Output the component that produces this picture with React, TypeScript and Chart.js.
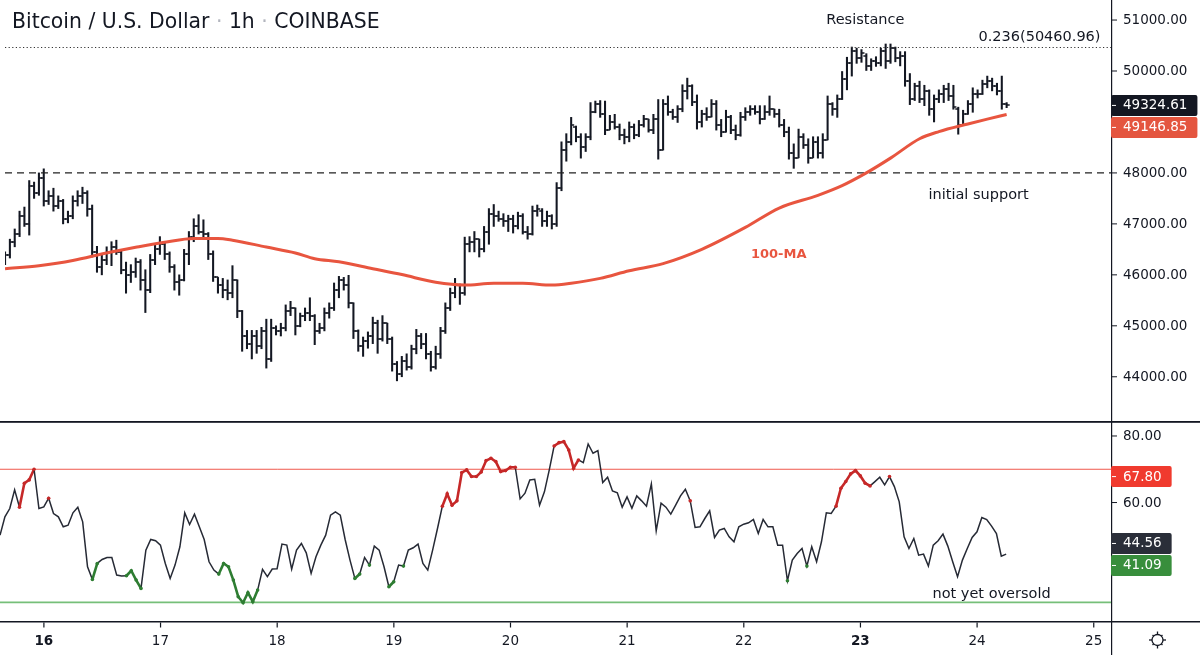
import React, { useEffect, useRef } from 'react';
import { Chart, registerables } from 'chart.js';

Chart.register(...registerables);

// ---------------- DATA ----------------
// hourly bars, hour 0 = Aug 16 00:00
const FIRST_HOUR = -9;

const opens = [
  46300, 46380, 46650, 46800, 47150, 47000, 47750, 47600, 47900,
  47450, 47550, 47350, 47450, 47100, 47150, 47450, 47550, 47600, 47300, 46450, 46150, 46300, 46450, 46550, 46450, 46100, 46000, 46050, 46250, 45900, 45700, 46300, 46500,
  46600, 46400, 46150, 45850, 45900, 46400, 46750, 46950, 46850, 46800, 46400, 45950, 45800, 45700, 45650, 45900, 45300, 44800, 44650, 44800, 44600, 44900, 44350, 44950,
  44900, 44950, 45300, 45350, 45000, 45200, 45250, 45200, 44900, 44950, 45250, 45350, 45700, 45900, 45800, 45450, 44900, 44600, 44700, 44800, 45050, 44750, 45050, 44750,
  44250, 44050, 44300, 44200, 44550, 44800, 44650, 44450, 44200, 44450, 44900, 45350, 45650, 45800, 45650, 46600, 46650, 46700, 46500, 46850, 47200, 47150, 47100, 47050,
  47100, 46950, 47150, 46850, 46800, 47250, 47250, 47050, 47150, 47000, 47700, 48450, 48600, 48900, 48700, 48500, 48700, 49200, 49350, 49150, 48850, 49000, 48900, 48750,
  48700, 48900, 48750, 48950, 49050, 48850, 49050, 48450, 49350, 49200, 49100, 49250, 49600, 49700, 49400, 49000, 49150, 49100, 49350, 48950, 48800, 49100, 48850, 48750,
  49100, 49200, 49250, 49200, 49050, 49200, 49250, 49150, 48950, 48800, 48400, 48300, 48700, 48550, 48300, 48600, 48400, 48650, 49350, 49250, 49450, 49850, 50150, 50400,
  50250, 50300, 50100, 50200, 50150, 50400, 50200, 50450, 50250, 50300, 49800, 49450, 49700, 49450, 49600, 49250, 49450, 49550, 49650, 49500, 49250, 48950, 49150, 49350,
  49550, 49550, 49750, 49800, 49700, 49600, 49350,
];
const highs = [
  46450, 46700, 46900, 47250, 47330, 47850, 47820, 48000, 48080,
  47650, 47700, 47550, 47480, 47250, 47550, 47650, 47720, 47650, 47370, 46560, 46400, 46550, 46650, 46680, 46480, 46250, 46200, 46330, 46300, 46100, 46400, 46600, 46750,
  46650, 46450, 46200, 46000, 46500, 46850, 47100, 47180, 47080, 46830, 46470, 45950, 45930, 45900, 46180, 45900, 45300, 44910, 44910, 44910, 44970, 45130, 45130, 45000,
  45050, 45410, 45480, 45350, 45250, 45350, 45550, 45220, 45050, 45350, 45450, 45840, 45970, 45950, 45990, 45450, 44920, 44780, 44880, 45170, 45110, 45200, 45050, 44780,
  44300, 44400, 44450, 44620, 44930, 44850, 44850, 44500, 44600, 44970, 45450, 45740, 45930, 45820, 46740, 46750, 46850, 46700, 46950, 47300, 47380, 47250, 47200, 47170,
  47170, 47230, 47200, 46950, 47350, 47370, 47300, 47250, 47180, 47810, 48610, 48770, 49090, 48920, 48770, 48770, 49380, 49410, 49420, 49410, 49130, 49150, 48960, 48860,
  49000, 48960, 49030, 49130, 49050, 49150, 49440, 49440, 49510, 49250, 49320, 49730, 49860, 49730, 49530, 49230, 49280, 49440, 49420, 49050, 49230, 49130, 48940, 49190,
  49280, 49320, 49320, 49320, 49320, 49510, 49250, 49250, 49050, 48900, 48570, 48860, 48770, 48670, 48710, 48710, 48770, 49510, 49380, 49530, 49990, 50270, 50470, 50450,
  50420, 50340, 50240, 50280, 50450, 50530, 50530, 50470, 50380, 50380, 49950, 49760, 49800, 49720, 49630, 49530, 49630, 49720, 49760, 49720, 49290, 49230, 49420, 49670,
  49630, 49820, 49900, 49860, 49760, 49900, 49380,
];
const lows = [
  46200, 46330, 46550, 46750, 46950, 46780, 47500, 47560, 47350,
  47380, 47250, 47300, 47000, 47020, 47100, 47350, 47400, 47150, 46350, 46050, 46000, 46200, 46180, 46400, 46020, 45640, 45850, 45950, 45700, 45260, 45650, 46200, 46400,
  46300, 46050, 45700, 45600, 45880, 46200, 46650, 46800, 46700, 46300, 45870, 45640, 45550, 45510, 45550, 45160, 44500, 44550, 44350, 44460, 44550, 44170, 44300, 44820,
  44800, 44900, 45200, 44820, 44980, 45100, 45100, 44630, 44850, 44900, 45150, 45300, 45550, 45700, 45350, 44750, 44500, 44400, 44560, 44650, 44460, 44700, 44650, 44110,
  43920, 44000, 44130, 44150, 44450, 44550, 44350, 44110, 44150, 44360, 44850, 45300, 45550, 45420, 45600, 46450, 46450, 46350, 46450, 46600, 46950, 47050, 46950, 46850,
  46820, 46900, 46800, 46700, 46780, 47150, 46950, 46950, 46900, 46950, 47650, 48230, 48550, 48610, 48290, 48420, 48650, 49180, 49090, 48750, 48850, 48860, 48650, 48570,
  48610, 48670, 48710, 48900, 48800, 48770, 48270, 48450, 49130, 49050, 48990, 49200, 49450, 49320, 48860, 48900, 49030, 49100, 48840, 48710, 48800, 48770, 48650, 48720,
  49030, 49130, 49150, 48960, 49050, 49130, 49090, 48900, 48710, 48270, 48090, 48300, 48480, 48190, 48300, 48290, 48290, 48650, 49130, 49090, 49440, 49630, 49900, 50150,
  50170, 50010, 50010, 50090, 50100, 50050, 50150, 50180, 50100, 49700, 49340, 49420, 49380, 49320, 49130, 49000, 49380, 49380, 49420, 49250, 48760, 48950, 49150, 49190,
  49470, 49540, 49670, 49610, 49530, 49250, 49280,
];
const closes = [
  46380, 46650, 46800, 47150, 47000, 47750, 47600, 47900, 47450,
  47550, 47350, 47450, 47100, 47150, 47450, 47550, 47600, 47300, 46450, 46150, 46300, 46450, 46550, 46450, 46100, 46000, 46050, 46250, 45900, 45700, 46300, 46500, 46600,
  46400, 46150, 45850, 45900, 46400, 46750, 46950, 46850, 46800, 46400, 45950, 45800, 45700, 45650, 45900, 45300, 44800, 44650, 44800, 44600, 44900, 44350, 44950, 44900,
  44950, 45300, 45350, 45000, 45200, 45250, 45200, 44900, 44950, 45250, 45350, 45700, 45900, 45800, 45450, 44900, 44600, 44700, 44800, 45050, 44750, 45050, 44750, 44250,
  44050, 44300, 44200, 44550, 44800, 44650, 44450, 44200, 44450, 44900, 45350, 45650, 45800, 45650, 46600, 46650, 46700, 46500, 46850, 47200, 47150, 47100, 47050, 47100,
  46950, 47150, 46850, 46800, 47250, 47300, 47050, 47150, 47000, 47700, 48450, 48600, 48950, 48700, 48500, 48700, 49200, 49350, 49150, 48850, 49000, 48900, 48750, 48700,
  48900, 48750, 48950, 49050, 48850, 49050, 48450, 49350, 49200, 49100, 49250, 49600, 49700, 49400, 49000, 49150, 49100, 49350, 48950, 48800, 49100, 48850, 48750, 49100,
  49200, 49250, 49200, 49050, 49200, 49250, 49150, 48950, 48800, 48400, 48300, 48700, 48550, 48300, 48600, 48400, 48650, 49350, 49250, 49450, 49850, 50150, 50400, 50250,
  50350, 50100, 50200, 50150, 50400, 50200, 50450, 50250, 50300, 49800, 49450, 49700, 49450, 49600, 49250, 49450, 49550, 49650, 49500, 49300, 48950, 49150, 49350, 49550,
  49550, 49750, 49800, 49700, 49600, 49350, 49324.61,
];

// 100-period moving average
const maHours = [-9, -2, 5, 12, 18, 24, 30, 35, 38, 45, 51, 55, 60, 67, 73, 80, 86, 92, 98, 104, 108, 114, 120, 127, 135, 144, 151, 159, 164, 169, 174, 180, 184, 190, 194, 198];
const maValues = [46120, 46180, 46280, 46430, 46540, 46640, 46715, 46715, 46680, 46545, 46430, 46315, 46255, 46120, 46005, 45855, 45800, 45835, 45835, 45800, 45835, 45930, 46080, 46220, 46500, 46930, 47310, 47560, 47750, 48000, 48290, 48670, 48810, 48960, 49055, 49146.85];

// RSI, one value per bar (same hours as the bars)
const rsiValues = [
  50.2, 55.7, 58.2, 63.8, 58.6, 65.8, 66.8, 70.0, 58.2,
  58.7, 61.3, 56.7, 55.7, 52.7, 53.2, 56.9, 58.6, 54.2, 40.7, 36.9, 41.7, 42.9, 43.5, 43.5, 38.2, 37.9, 38.0, 39.5, 36.7, 34.2, 45.7, 48.9, 48.5,
  47.2, 41.7, 37.2, 41.2, 46.7, 56.9, 53.4, 56.5, 52.7, 48.9, 42.2, 39.7, 38.5, 41.7, 40.7, 36.7, 31.7, 29.9, 32.9, 30.2, 33.7, 39.9, 37.7, 40.0,
  40.1, 47.5, 47.2, 40.0, 45.7, 47.7, 44.9, 38.7, 43.7, 47.2, 50.2, 56.2, 57.2, 56.2, 48.9, 42.7, 37.2, 38.5, 43.5, 41.2, 46.9, 45.7, 40.7, 34.7,
  36.2, 41.2, 40.9, 45.7, 46.4, 47.5, 41.7, 39.7, 45.7, 52.2, 58.9, 62.6, 59.2, 60.5, 69.0, 69.8, 67.8, 67.8, 69.2, 72.6, 73.3, 72.3, 69.3, 69.6,
  70.6, 70.6, 61.1, 62.8, 66.8, 67.0, 59.2, 63.2, 69.8, 77.0, 78.0, 78.3, 75.8, 70.3, 72.8, 72.0, 77.6, 74.8, 75.6, 66.0, 67.6, 63.5, 62.9, 58.6,
  61.7, 58.3, 62.0, 60.5, 58.9, 65.6, 51.5, 59.8, 58.6, 56.5, 59.2, 62.0, 64.0, 60.5, 52.5, 52.7, 55.2, 57.5, 49.5, 51.7, 52.2, 49.7, 48.2, 52.7,
  53.5, 53.9, 54.9, 50.7, 54.9, 52.7, 52.7, 47.2, 47.2, 36.5, 42.7, 44.7, 46.2, 40.9, 46.7, 42.2, 48.2, 56.9, 56.7, 58.9, 64.3, 66.3, 68.6, 69.6,
  68.0, 65.8, 65.0, 66.3, 67.6, 65.3, 67.8, 64.8, 60.2, 49.7, 46.2, 49.2, 44.2, 44.5, 40.9, 47.2, 48.5, 50.5, 46.9, 42.2, 37.7, 42.7, 46.2, 49.5,
  51.2, 55.5, 54.9, 52.9, 50.7, 43.9, 44.5,
];
// hours where the RSI is highlighted (hot = red, cold = green)
const rsiHotRanges = [[-5, -2], [1, 1], [82, 97], [105, 110], [133, 133], [163, 170], [174, 174]];
const rsiColdRanges = [[10, 11], [17, 20], [36, 44], [64, 65], [67, 67], [71, 72], [74, 74], [153, 153], [157, 157]];

const priceTicks = [44000, 45000, 46000, 47000, 48000, 50000, 51000];
const hiddenPriceTicks = [49000];
const rsiTicks = [60, 80];
const dayTickHours = [0, 24, 48, 72, 96, 120, 144, 168, 192, 216];
const dayLabels = ['16', '17', '18', '19', '20', '21', '22', '23', '24', '25'];
const boldDays = ['16', '23'];

const supportLevel = 48000;
const fibLevel = 50460.96;
const fibLabel = '0.236(50460.96)';
const overbought = 70;
const oversold = 30;
const lastPrice = 49324.61;
const lastMA = 49146.85;
const rsiUpperValue = 67.8;
const rsiLastValue = 44.56;
const rsiLowerValue = 41.09;

const X_MIN = -9.01;
const X_MAX = 219.57;
const PRICE_MIN = 43230;
const PRICE_MAX = 51295;
const RSI_MIN = 24.4;
const RSI_MAX = 84.5;

// ---------------- STYLE ----------------
const INK = '#131722';
const FONT = '"DejaVu Sans", sans-serif';
const MA_RED = '#e8553f';
const HOT = '#c62828';
const COLD = '#2e7d32';

const hours = opens.map((_, i) => FIRST_HOUR + i);

function inRanges(h: number, ranges: number[][]) {
  return ranges.some(([a, b]) => h >= a && h <= b);
}
function zoneAt(i: number) {
  const h = hours[i];
  if (inRanges(h, rsiHotRanges)) return 1;
  if (inRanges(h, rsiColdRanges)) return -1;
  return 0;
}

function makeTick(side: 'left' | 'right') {
  const c = document.createElement('canvas');
  c.width = 8;
  c.height = 2;
  const g = c.getContext('2d')!;
  g.fillStyle = INK;
  if (side === 'left') g.fillRect(1, 0.25, 3.2, 1.5);
  else g.fillRect(3.8, 0.25, 3.2, 1.5);
  return c;
}

function drawBox(ctx: CanvasRenderingContext2D, x0: number, cy: number, text: string, bg: string) {
  ctx.font = `13.5px ${FONT}`;
  const w = ctx.measureText(text).width + 22;
  const h = 21;
  ctx.fillStyle = bg;
  ctx.beginPath();
  ctx.roundRect(x0, cy - h / 2, w, h, 2);
  ctx.fill();
  ctx.fillStyle = '#ffffff';
  ctx.fillRect(x0 + 1, cy - 0.5, 4, 1);
  ctx.textAlign = 'left';
  ctx.textBaseline = 'middle';
  ctx.fillText(text, x0 + 12, cy + 0.5);
}

const mainDecor = {
  id: 'mainDecor',
  afterDraw(chart: any) {
    const { ctx, chartArea, scales } = chart;
    const { right } = chartArea;
    const x = scales.x;
    const y = scales.y;
    ctx.save();
    // axis line
    ctx.fillStyle = INK;
    ctx.fillRect(right, 0, 1.2, chart.height);
    // ticks + labels
    ctx.font = `13.5px ${FONT}`;
    ctx.textAlign = 'left';
    ctx.textBaseline = 'middle';
    priceTicks.forEach((v) => {
      const py = y.getPixelForValue(v);
      ctx.fillStyle = INK;
      ctx.fillRect(right + 1, py - 0.5, 5, 1);
      ctx.fillText(v.toFixed(2), right + 12, py + 0.5);
    });
    hiddenPriceTicks.forEach((v) => {
      ctx.fillRect(right + 1, y.getPixelForValue(v) - 0.5, 5, 1);
    });
    // price boxes
    const yLast = y.getPixelForValue(lastPrice);
    let yMa = y.getPixelForValue(lastMA);
    if (yMa - yLast < 22) yMa = yLast + 22;
    drawBox(ctx, right, yLast, lastPrice.toFixed(2), '#131722');
    drawBox(ctx, right, yMa, lastMA.toFixed(2), '#e4553f');

    // title
    ctx.textBaseline = 'alphabetic';
    ctx.font = `20.4px ${FONT}`;
    let tx = 12;
    const parts: [string, string][] = [
      ['Bitcoin / U.S. Dollar', INK],
      [' · ', '#b2b5be'],
      ['1h', INK],
      [' · ', '#b2b5be'],
      ['COINBASE', INK],
    ];
    parts.forEach(([t, c]) => {
      ctx.fillStyle = c;
      ctx.fillText(t, tx, 28);
      tx += ctx.measureText(t).width;
    });

    // annotations
    ctx.fillStyle = INK;
    ctx.font = `14.5px ${FONT}`;
    ctx.textBaseline = 'middle';
    ctx.textAlign = 'center';
    ctx.fillText('Resistance', x.getPixelForValue(168.8), y.getPixelForValue(51000));
    ctx.fillText('initial support', x.getPixelForValue(192.2), y.getPixelForValue(47560));
    ctx.textAlign = 'right';
    ctx.textBaseline = 'bottom';
    ctx.fillText(fibLabel, x.getPixelForValue(217.4), y.getPixelForValue(fibLevel) - 3);
    ctx.textAlign = 'center';
    ctx.textBaseline = 'middle';
    ctx.fillStyle = MA_RED;
    ctx.font = `bold 13px ${FONT}`;
    ctx.fillText('100-MA', x.getPixelForValue(150.9), y.getPixelForValue(46395));
    ctx.restore();
  },
};

const rsiDecor = {
  id: 'rsiDecor',
  afterDraw(chart: any) {
    const { ctx, chartArea, scales } = chart;
    const { right, bottom } = chartArea;
    const x = scales.x;
    const y = scales.y;
    ctx.save();
    ctx.fillStyle = INK;
    ctx.fillRect(0, 0, chart.width, 1.8);
    ctx.fillRect(0, bottom, chart.width, 1.5);
    ctx.fillRect(right, 0, 1.2, chart.height);
    ctx.font = `13.5px ${FONT}`;
    ctx.textAlign = 'left';
    ctx.textBaseline = 'middle';
    rsiTicks.forEach((v) => {
      const py = y.getPixelForValue(v);
      ctx.fillStyle = INK;
      ctx.fillRect(right + 1, py - 0.5, 5, 1);
      ctx.fillText(v.toFixed(2), right + 12, py + 0.5);
    });
    // value boxes
    drawBox(ctx, right, y.getPixelForValue(rsiUpperValue), rsiUpperValue.toFixed(2), '#f03a2e');
    const yLow = y.getPixelForValue(rsiLowerValue);
    let yLastR = y.getPixelForValue(rsiLastValue);
    if (yLow - yLastR < 22) yLastR = yLow - 22;
    drawBox(ctx, right, yLastR, rsiLastValue.toFixed(2), '#2a2e39');
    drawBox(ctx, right, yLow, rsiLowerValue.toFixed(2), '#388e3c');

    // day axis
    dayTickHours.forEach((h, i) => {
      const px = x.getPixelForValue(h);
      ctx.fillStyle = INK;
      ctx.fillRect(px - 0.5, bottom + 1.5, 1.2, 5);
      ctx.font = `${boldDays.includes(dayLabels[i]) ? 'bold ' : ''}13.5px ${FONT}`;
      ctx.textAlign = 'center';
      ctx.textBaseline = 'middle';
      ctx.fillText(dayLabels[i], px, bottom + 20);
    });

    // settings icon
    const gx = right + (chart.width - right) / 2 + 2;
    const gy = bottom + 19;
    ctx.strokeStyle = INK;
    ctx.lineWidth = 1.3;
    ctx.beginPath();
    ctx.arc(gx, gy, 5.5, 0, Math.PI * 2);
    ctx.stroke();
    for (let k = 0; k < 8; k++) {
      const a = (k * Math.PI) / 4;
      ctx.beginPath();
      ctx.moveTo(gx + Math.cos(a) * 5.5, gy + Math.sin(a) * 5.5);
      ctx.lineTo(gx + Math.cos(a) * (k % 2 === 0 ? 8.5 : 7), gy + Math.sin(a) * (k % 2 === 0 ? 8.5 : 7));
      ctx.stroke();
    }

    // annotation
    ctx.fillStyle = INK;
    ctx.font = `14.5px ${FONT}`;
    ctx.textAlign = 'center';
    ctx.textBaseline = 'middle';
    ctx.fillText('not yet oversold', x.getPixelForValue(195), y.getPixelForValue(32.5));
    ctx.restore();
  },
};

function mainConfig(): any {
  return {
    type: 'bar',
    data: {
      datasets: [
        {
          type: 'line',
          label: '100-MA',
          data: maHours.map((h, i) => ({ x: h, y: maValues[i] })),
          borderColor: MA_RED,
          borderWidth: 3,
          pointRadius: 0,
          cubicInterpolationMode: 'monotone',
          order: 0,
        },
        {
          type: 'line',
          label: 'support',
          data: [
            { x: X_MIN, y: supportLevel },
            { x: X_MAX, y: supportLevel },
          ],
          borderColor: '#222222',
          borderWidth: 1.4,
          borderDash: [7, 5],
          pointRadius: 0,
          order: 1,
        },
        {
          type: 'line',
          label: 'fib',
          data: [
            { x: X_MIN, y: fibLevel },
            { x: X_MAX, y: fibLevel },
          ],
          borderColor: '#333333',
          borderWidth: 1.2,
          borderDash: [1.2, 2.4],
          pointRadius: 0,
          order: 1,
        },
        {
          type: 'bar',
          label: 'range',
          data: hours.map((h, i) => ({ x: h, y: [lows[i], highs[i]] })),
          backgroundColor: INK,
          borderWidth: 0,
          barThickness: 1.4,
          order: 2,
        },
        {
          type: 'line',
          label: 'open',
          data: hours.map((h, i) => ({ x: h, y: opens[i] })),
          showLine: false,
          pointStyle: makeTick('left'),
          pointRadius: 3,
          order: 2,
        },
        {
          type: 'line',
          label: 'close',
          data: hours.map((h, i) => ({ x: h, y: closes[i] })),
          showLine: false,
          pointStyle: makeTick('right'),
          pointRadius: 3,
          order: 2,
        },
      ],
    },
    options: {
      responsive: false,
      animation: false,
      events: [],
      layout: { padding: { left: 0, right: 89, top: 0, bottom: 0 } },
      scales: {
        x: { type: 'linear', min: X_MIN, max: X_MAX, display: false, offset: false },
        y: { type: 'linear', min: PRICE_MIN, max: PRICE_MAX, display: false, beginAtZero: false },
      },
      plugins: { legend: { display: false }, tooltip: { enabled: false } },
    },
    plugins: [mainDecor],
  };
}

function rsiConfig(): any {
  return {
    type: 'line',
    data: {
      datasets: [
        {
          label: 'RSI',
          data: hours.map((h, i) => ({ x: h, y: rsiValues[i] })),
          borderColor: '#262a35',
          borderWidth: 1.5,
          tension: 0,
          pointRadius: (c: any) => (zoneAt(c.dataIndex) !== 0 ? 1.8 : 0),
          pointBackgroundColor: (c: any) => (zoneAt(c.dataIndex) === 1 ? HOT : COLD),
          pointBorderWidth: 0,
          segment: {
            borderColor: (c: any) => {
              const a = zoneAt(c.p0DataIndex);
              const b = zoneAt(c.p1DataIndex);
              if (a === 1 && b === 1) return HOT;
              if (a === -1 && b === -1) return COLD;
              return undefined;
            },
            borderWidth: (c: any) => {
              const a = zoneAt(c.p0DataIndex);
              const b = zoneAt(c.p1DataIndex);
              return a !== 0 && a === b ? 2.6 : undefined;
            },
          },
          order: 0,
        },
        {
          label: 'overbought',
          data: [
            { x: X_MIN, y: overbought },
            { x: X_MAX, y: overbought },
          ],
          borderColor: '#f0584c',
          borderWidth: 1,
          pointRadius: 0,
          order: 1,
        },
        {
          label: 'oversold',
          data: [
            { x: X_MIN, y: oversold },
            { x: X_MAX, y: oversold },
          ],
          borderColor: '#76bf79',
          borderWidth: 1.6,
          pointRadius: 0,
          order: 1,
        },
      ],
    },
    options: {
      responsive: false,
      animation: false,
      events: [],
      layout: { padding: { left: 0, right: 89, top: 0, bottom: 34 } },
      scales: {
        x: { type: 'linear', min: X_MIN, max: X_MAX, display: false, offset: false },
        y: { type: 'linear', min: RSI_MIN, max: RSI_MAX, display: false },
      },
      plugins: { legend: { display: false }, tooltip: { enabled: false } },
    },
    plugins: [rsiDecor],
  };
}

export default function App() {
  const mainRef = useRef<HTMLCanvasElement>(null);
  const rsiRef = useRef<HTMLCanvasElement>(null);

  useEffect(() => {
    document.body.style.margin = '0';
    Chart.defaults.font.family = FONT;
    const c1 = new Chart(mainRef.current as HTMLCanvasElement, mainConfig());
    const c2 = new Chart(rsiRef.current as HTMLCanvasElement, rsiConfig());
    return () => {
      c1.destroy();
      c2.destroy();
    };
  }, []);

  return (
    <div style={{ width: 1200, height: 655, background: '#ffffff', overflow: 'hidden' }}>
      <canvas ref={mainRef} width={1200} height={421} style={{ display: 'block', width: 1200, height: 421 }} />
      <canvas ref={rsiRef} width={1200} height={234} style={{ display: 'block', width: 1200, height: 234 }} />
    </div>
  );
}
